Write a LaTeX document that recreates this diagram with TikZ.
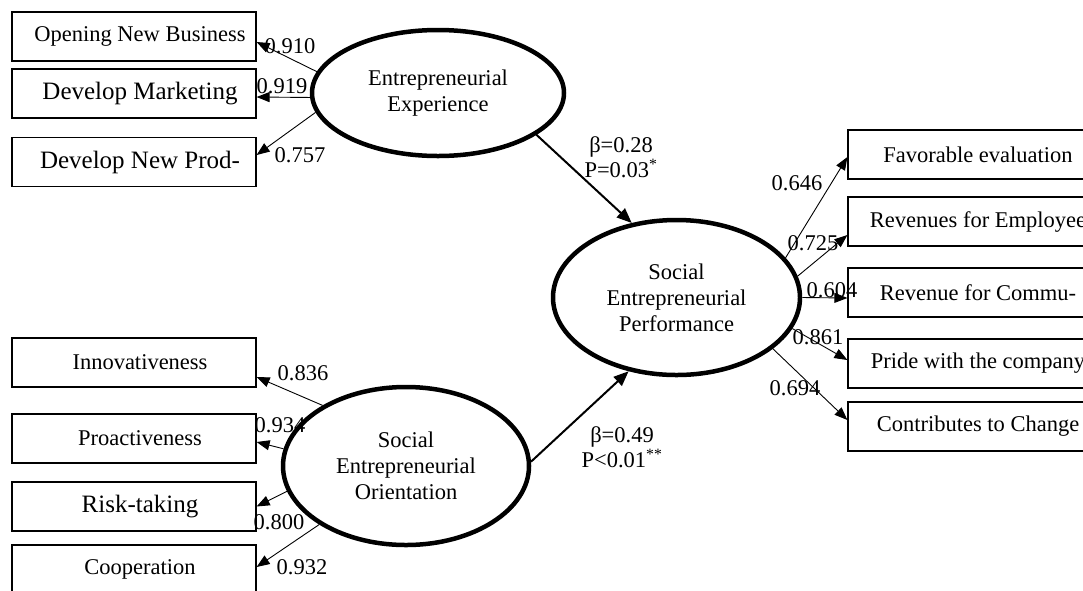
\documentclass[tikz,border=0pt]{standalone}
\usepackage{fontspec}
\setmainfont{Liberation Serif}
\usetikzlibrary{arrows.meta,shapes.geometric}
\begin{document}
\begin{tikzpicture}[x=1pt,y=-1pt,
  nf/.style={font=\fontsize{22.5}{26}\selectfont},
  bf/.style={font=\fontsize{25}{28}\selectfont},
  ind/.style={draw, line width=1.2pt, minimum height=49pt, inner sep=0pt, anchor=center},
  lbox/.style={ind, minimum width=244pt},
  rbox/.style={ind, minimum width=260pt},
  lat/.style={draw, ellipse, line width=4.5pt, inner sep=0pt, align=center, nf},
  load/.style={line width=0.9pt, -{Triangle[length=13pt,width=10pt]}},
  struct/.style={line width=2pt, -{Triangle[length=15pt,width=12pt]}},
  lab/.style={nf, inner sep=0pt, align=center}]
\useasboundingbox (0,0) rectangle (1083,590);
\clip (0,0) rectangle (1083,590);

% left upper boxes
\node[lbox, nf] (b1) at (134,36.5) {\hspace*{12pt}Opening New Business};
\node[lbox, bf] (b2) at (134,93.5) {\hspace*{12pt}Develop Marketing};
\node[lbox, bf] (b3) at (134,162) {\hspace*{12pt}Develop New Prod-};
% left lower boxes
\node[lbox, nf] (c1) at (134,362.5) {\hspace*{12pt}Innovativeness};
\node[lbox, nf] (c2) at (134,438.5) {\hspace*{12pt}Proactiveness};
\node[lbox, bf] (c3) at (134,506.5) {\hspace*{12pt}Risk-taking};
\node[lbox, nf] (c4) at (134,569.5) {\hspace*{12pt}Cooperation};
% right boxes
\node[rbox, nf] (d1) at (978,154.5) {Favorable evaluation};
\node[rbox, nf] (d2) at (978,221.5) {Revenues for Employee};
\node[rbox, nf] (d3) at (978,292.5) {Revenue for Commu-};
\node[rbox, nf] (d4) at (978,363.5) {Pride with the company};
\node[rbox, nf] (d5) at (978,426.5) {Contributes to Change};

% latent variables
\node[lat, minimum width=252pt, minimum height=126pt] (ee) at (438,93) {Entrepreneurial\\Experience};
\node[lat, minimum width=247pt, minimum height=155pt] (sep) at (676.5,297.5) {Social\\Entrepreneurial\\Performance};
\node[lat, minimum width=246pt, minimum height=158pt] (seo) at (406,466) {Social\\Entrepreneurial\\Orientation};

% loadings
\draw[load] (ee.170) -- ([yshift=-5.5pt]b1.east);
\draw[load] (ee.182) -- ([yshift=-3.5pt]b2.east);
\draw[load] (ee.189) -- ([yshift=7pt]b3.east);

\draw[load] (seo.144) -- ([yshift=-14.5pt]c1.east);
\draw[load] (seo.172.6) -- ([yshift=-3.5pt]c2.east);
\draw[load] (seo.192.4) -- ([yshift=0pt]c3.east);
\draw[load] (seo.214.7) -- ([yshift=2.5pt]c4.east);

\draw[load] (sep.20.1) -- ([yshift=-2.5pt]d1.west);
\draw[load] (sep.10.1) -- ([yshift=-13.5pt]d2.west);
\draw[load] (sep.0) -- ([yshift=-5.5pt]d3.west);
\draw[load] (sep.345) -- ([yshift=3.5pt]d4.west);
\draw[load] (sep.332) -- ([yshift=6.5pt]d5.west);

% structural paths
\draw[struct] (ee.337.5) -- (sep.121);
\draw[struct] (seo.2) -- (sep.237);

% loading labels
\node[lab] (l1) at (290,46) {0.910};
\node[lab] (l2) at (282,86) {0.919};
\node[lab] (l3) at (300,155) {0.757};
\node[lab] (l4) at (303,373) {0.836};
\node[lab] (l5) at (280,425) {0.934};
\node[lab] (l6) at (279,522) {0.800};
\node[lab] (l7) at (302,567) {0.932};
\node[lab] (l8) at (797,183) {0.646};
\node[lab] (l9) at (813,243) {0.725};
\node[lab] (l10) at (832,290) {0.604};
\node[lab] (l11) at (818,337) {0.861};
\node[lab] (l12) at (795,388) {0.694};

% path coefficients
\node[lab, font=\fontsize{22.5}{25}\selectfont] (p1) at (621,157) {β=0.28\\P=0.03\textsuperscript{*}};
\node[lab, font=\fontsize{22.5}{25}\selectfont] (p2) at (622,447) {β=0.49\\P<0.01\textsuperscript{**}};
\end{tikzpicture}
\end{document}
